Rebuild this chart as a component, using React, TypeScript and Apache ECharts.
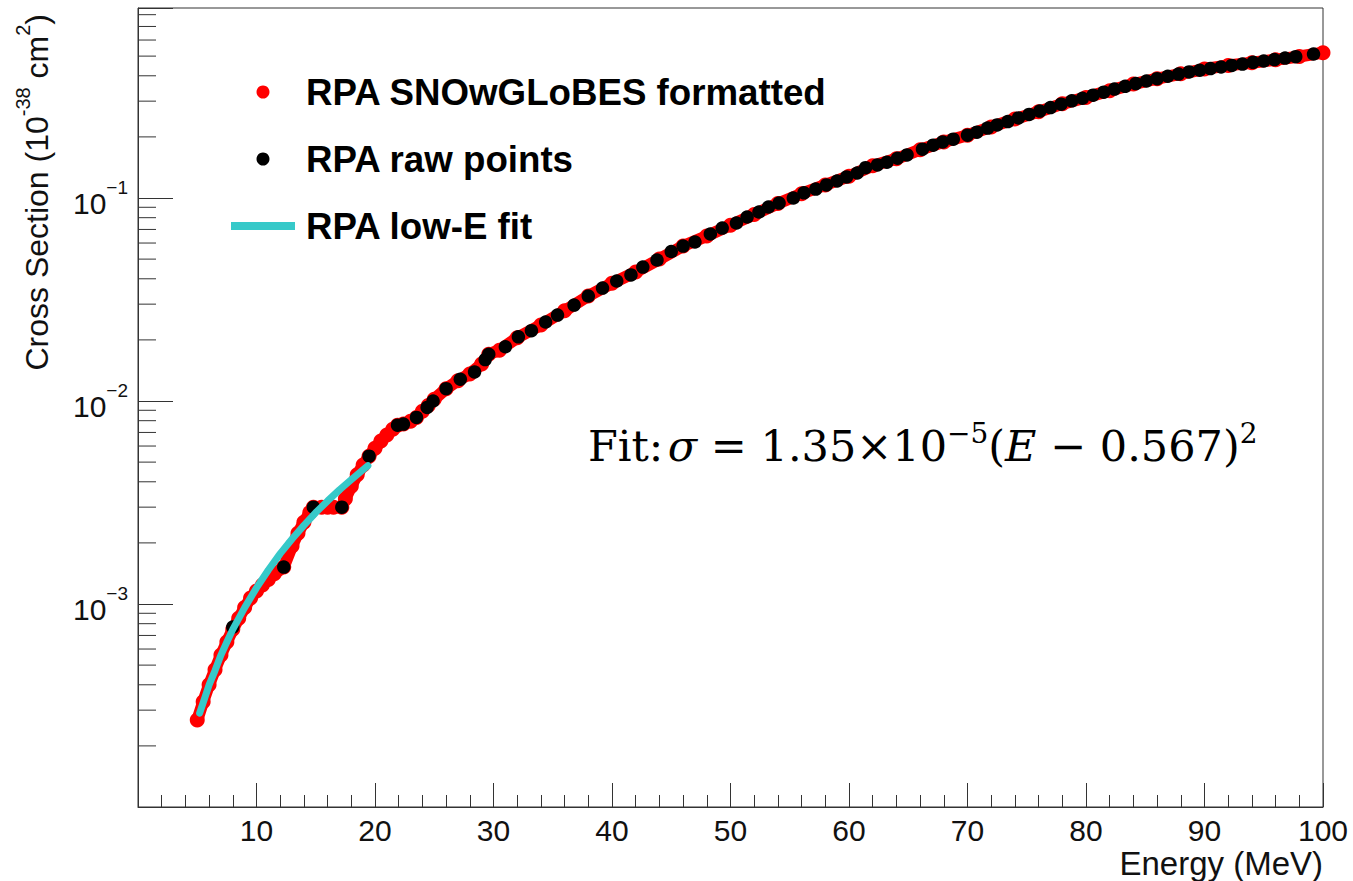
import React, { useEffect, useRef } from 'react';
import * as echarts from 'echarts';

// ---- data ----
const redE = [5.0, 5.5, 6.0, 6.5, 7.0, 7.5, 8.0, 8.5, 9.0, 9.5, 10.0, 10.5, 11.0, 11.5, 12.3, 13.0, 13.5, 14.0, 14.5, 14.8, 15.5, 16.0, 16.5, 17.2, 17.5, 18.0, 18.5, 19.0, 19.5, 20.0, 20.5, 21.0, 21.5, 21.9, 22.4, 23.0, 23.5, 24.0, 24.5, 25.0, 26, 27, 28, 29, 29.6, 30.5, 32, 34, 36, 38, 40, 42, 44, 46, 48, 50, 52, 54, 56, 58, 60, 62, 64, 66, 68, 70, 72, 74, 76, 78, 80, 82, 84, 86, 88, 90, 92, 94, 96, 98, 100];
const redV = [2.68e-4, 3.3e-4, 4.0e-4, 4.75e-4, 5.6e-4, 6.5e-4, 7.5e-4, 8.5e-4, 9.6e-4, 1.07e-3, 1.16e-3, 1.24e-3, 1.32e-3, 1.41e-3, 1.52e-3, 1.93e-3, 2.23e-3, 2.53e-3, 2.82e-3, 3.0e-3, 3.0e-3, 3.0e-3, 3.0e-3, 3.0e-3, 3.3e-3, 3.8e-3, 4.33e-3, 4.84e-3, 5.35e-3, 5.85e-3, 6.35e-3, 6.8e-3, 7.25e-3, 7.6e-3, 7.7e-3, 7.95e-3, 8.3e-3, 8.9e-3, 9.5e-3, 1.02e-2, 1.15e-2, 1.26e-2, 1.36e-2, 1.52e-2, 1.7e-2, 1.78e-2, 2.05e-2, 2.37e-2, 2.78e-2, 3.29e-2, 3.8e-2, 4.32e-2, 5.0e-2, 5.8e-2, 6.5e-2, 7.35e-2, 8.3e-2, 9.4e-2, 0.105, 0.116, 0.128, 0.144, 0.156, 0.173, 0.189, 0.204, 0.224, 0.245, 0.266, 0.291, 0.313, 0.338, 0.364, 0.387, 0.409, 0.432, 0.45, 0.464, 0.48, 0.498, 0.52];

const rawE = [8.0, 12.3, 14.8, 17.2, 19.5, 21.9, 22.4, 23.5, 24.4, 24.9, 26.0, 27.2, 28.4, 29.3, 29.6, 31.0, 32.1, 33.2, 34.4, 35.4, 36.8, 38.0, 39.2, 40.4, 41.6, 42.6, 43.8, 45.0, 46.0, 47.0, 48.3, 49.3, 50.5, 51.4, 52.4, 53.2, 54.1, 55.3, 56.2, 57.2, 58.1, 59.0, 59.8, 60.7, 61.4, 62.4, 63.2, 64.1, 64.9, 66.2, 67.1, 67.9, 68.8, 70.0, 70.8, 71.7, 72.5, 73.4, 74.3, 75.2, 76.1, 77.0, 77.9, 78.8, 79.7, 80.6, 81.5, 82.4, 83.3, 84.2, 85.1, 86.0, 86.9, 87.8, 88.7, 89.6, 90.5, 91.4, 92.3, 93.2, 94.1, 95.0, 95.9, 96.8, 97.7, 99.2];
const rawV = [7.7e-4, 1.52e-3, 3.0e-3, 3.0e-3, 5.35e-3, 7.6e-3, 7.7e-3, 8.3e-3, 9.3e-3, 1.0e-2, 1.15e-2, 1.28e-2, 1.39e-2, 1.6e-2, 1.7e-2, 1.85e-2, 2.07e-2, 2.22e-2, 2.45e-2, 2.65e-2, 2.97e-2, 3.29e-2, 3.6e-2, 3.9e-2, 4.18e-2, 4.57e-2, 4.95e-2, 5.45e-2, 5.8e-2, 6.07e-2, 6.65e-2, 7.11e-2, 7.53e-2, 8.06e-2, 8.53e-2, 9.03e-2, 9.44e-2, 0.1, 0.106, 0.1107, 0.116, 0.1213, 0.127, 0.1328, 0.141, 0.1455, 0.15, 0.157, 0.163, 0.174, 0.182, 0.189, 0.195, 0.204, 0.211, 0.221, 0.229, 0.238, 0.248, 0.258, 0.268, 0.279, 0.29, 0.301, 0.31, 0.321, 0.332, 0.344, 0.355, 0.366, 0.377, 0.387, 0.398, 0.408, 0.418, 0.426, 0.434, 0.442, 0.45, 0.457, 0.466, 0.473, 0.481, 0.489, 0.497, 0.512];

const fitE = [5.2, 5.6, 6.0, 6.5, 7.0, 7.5, 8.0, 9.0, 10.0, 11.0, 12.0, 13.0, 14.0, 15.0, 16.0, 17.0, 18.0, 19.0, 19.4];
const fitV = [2.9e-4, 3.4e-4, 4.0e-4, 4.7e-4, 5.6e-4, 6.5e-4, 7.5e-4, 9.6e-4, 1.2e-3, 1.47e-3, 1.77e-3, 2.09e-3, 2.44e-3, 2.82e-3, 3.22e-3, 3.65e-3, 4.1e-3, 4.59e-3, 4.8e-3];

const seriesNames = ['RPA SNOwGLoBES formatted', 'RPA raw points', 'RPA low-E fit'];
const xMin = 0;
const xMax = 100;
const xInterval = 10;
const yMin = 1e-4;
const yMax = 0.863;
const yDecades = [1e-4, 1e-3, 1e-2, 1e-1];
const yMinorMultipliers = [2, 3, 4, 5, 6, 7, 8, 9];
const yLabelExponents = [-1, -2, -3];

const FONT = '"Liberation Sans", Arial, Helvetica, sans-serif';
const SERIF = '"DejaVu Serif", "Liberation Serif", serif';

export default function App() {
  const ref = useRef<HTMLDivElement>(null);

  useEffect(() => {
    if (!ref.current) return;
    const chart = echarts.init(ref.current, undefined, { renderer: 'svg' });

    const zip = (a: number[], b: number[]) => a.map((v, i) => [v, b[i]]);
    const minorTicks: number[][] = [];
    yDecades.forEach((d) => yMinorMultipliers.forEach((m) => {
      const v = d * m;
      if (v < yMax) minorTicks.push([xMin, v]);
    }));

    const option: any = {
      animation: false,
      backgroundColor: '#fff',
      grid: { left: 138, right: 30, top: 8, bottom: 74, show: true, borderColor: '#333', borderWidth: 1, backgroundColor: 'transparent' },
      xAxis: {
        type: 'value', min: xMin, max: xMax, interval: xInterval,
        axisLine: { show: true, lineStyle: { color: '#333', width: 1 } },
        axisTick: { show: true, inside: true, length: 24, lineStyle: { color: '#333' } },
        minorTick: { show: true, splitNumber: 5, length: 12, lineStyle: { color: '#333' } },
        splitLine: { show: false },
        axisLabel: {
          showMinLabel: false, showMaxLabel: true, margin: 10,
          fontSize: 30, lineHeight: 27, fontFamily: FONT, color: '#111',
          formatter: (v: number) => (v === 0 ? '' : String(v)),
        },
      },
      yAxis: {
        type: 'log', logBase: 10, min: yMin, max: yMax,
        axisLine: { show: true, lineStyle: { color: '#333', width: 1 } },
        axisTick: { show: true, inside: true, length: 35, lineStyle: { color: '#333' } },
        splitLine: { show: false },
        axisLabel: {
          margin: 10,
          formatter: (v: number) => {
            const e = Math.log10(v);
            const r = Math.round(e);
            if (Math.abs(e - r) > 1e-6 || yLabelExponents.indexOf(r) < 0) return '';
            return `{b|10}{s|\u2212${-r}}`;
          },
          rich: {
            b: { fontSize: 30, fontFamily: FONT, color: '#111', lineHeight: 40, verticalAlign: 'bottom' },
            s: { fontSize: 19, fontFamily: FONT, color: '#111', lineHeight: 40, verticalAlign: 'top' },
          },
        },
      },
      legend: {
        orient: 'vertical', left: 226, top: 65, itemWidth: 64, itemHeight: 13, itemGap: 23,
        selectedMode: false,
        data: [
          { name: seriesNames[0], icon: 'circle' },
          { name: seriesNames[1], icon: 'circle' },
          { name: seriesNames[2], icon: 'path://M0,0H64V8H0Z' },
        ],
        textStyle: { fontSize: 36.7, lineHeight: 44, fontWeight: 'bold', fontFamily: FONT, color: '#000', padding: [0, 0, 0, 6] },
      },
      graphic: [
        {
          type: 'text', x: 33, y: 14, rotation: Math.PI / 2,
          style: {
            text: '{a|Cross Section (10}{s|-38}{a| cm}{s|2}{a|)}',
            align: 'right', verticalAlign: 'middle',
            rich: {
              a: { fontSize: 32, fontFamily: FONT, fill: '#111', lineHeight: 40, verticalAlign: 'bottom' },
              s: { fontSize: 20, fontFamily: FONT, fill: '#111', lineHeight: 40, verticalAlign: 'top' },
            },
          },
        },
        {
          type: 'text', x: 1323, y: 863,
          style: { text: 'Energy (MeV)', align: 'right', verticalAlign: 'middle', fontSize: 33, lineHeight: 28, fontFamily: FONT, fill: '#111' },
        },
        {
          type: 'text', x: 588, y: 443,
          style: {
            text: '{n|Fit:}{g| }{i|\u03c3}{n| = 1.35\u00d710}{s|\u22125}{n|(}{i|E}{n| \u2212 0.567)}{s|2}',
            align: 'left', verticalAlign: 'middle',
            rich: {
              n: { fontSize: 43, fontFamily: SERIF, fill: '#000', lineHeight: 48, verticalAlign: 'bottom' },
              g: { fontSize: 14, fontFamily: SERIF, fill: '#000', lineHeight: 48, verticalAlign: 'bottom' },
              i: { fontSize: 43, fontFamily: SERIF, fontStyle: 'italic', fill: '#000', lineHeight: 48, verticalAlign: 'bottom' },
              s: { fontSize: 28, fontFamily: SERIF, fill: '#000', lineHeight: 48, verticalAlign: 'top' },
            },
          },
        },
      ],
      series: [
        {
          name: seriesNames[0], type: 'line', data: zip(redE, redV), z: 2,
          symbol: 'circle', symbolSize: 15, showSymbol: true,
          itemStyle: { color: '#ff0000', opacity: 1 },
          lineStyle: { color: '#ff0000', width: 12, cap: 'round', join: 'round' },
          emphasis: { disabled: true },
        },
        {
          name: seriesNames[1], type: 'scatter', data: zip(rawE, rawV), z: 3,
          symbol: 'circle', symbolSize: 13.5,
          itemStyle: { color: '#000000', opacity: 1 },
          emphasis: { disabled: true },
        },
        {
          name: seriesNames[2], type: 'line', data: zip(fitE, fitV), z: 4,
          symbol: 'none', smooth: false,
          itemStyle: { color: '#36c9c9' },
          lineStyle: { color: '#36c9c9', width: 7, cap: 'round', join: 'round' },
          emphasis: { disabled: true },
        },
        {
          name: 'yMinorTicks', type: 'custom', data: minorTicks, z: 5, silent: true,
          renderItem: (_params: any, api: any) => {
            const p = api.coord([api.value(0), api.value(1)]);
            return {
              type: 'line',
              shape: { x1: p[0], y1: p[1], x2: p[0] + 18, y2: p[1] },
              style: { stroke: '#333', lineWidth: 1 },
            };
          },
        },
      ],
    };

    chart.setOption(option);
    return () => chart.dispose();
  }, []);

  return (
    <div
      ref={ref}
      style={{ position: 'fixed', left: 0, top: 0, width: 1353, height: 881, background: '#fff' }}
    />
  );
}
